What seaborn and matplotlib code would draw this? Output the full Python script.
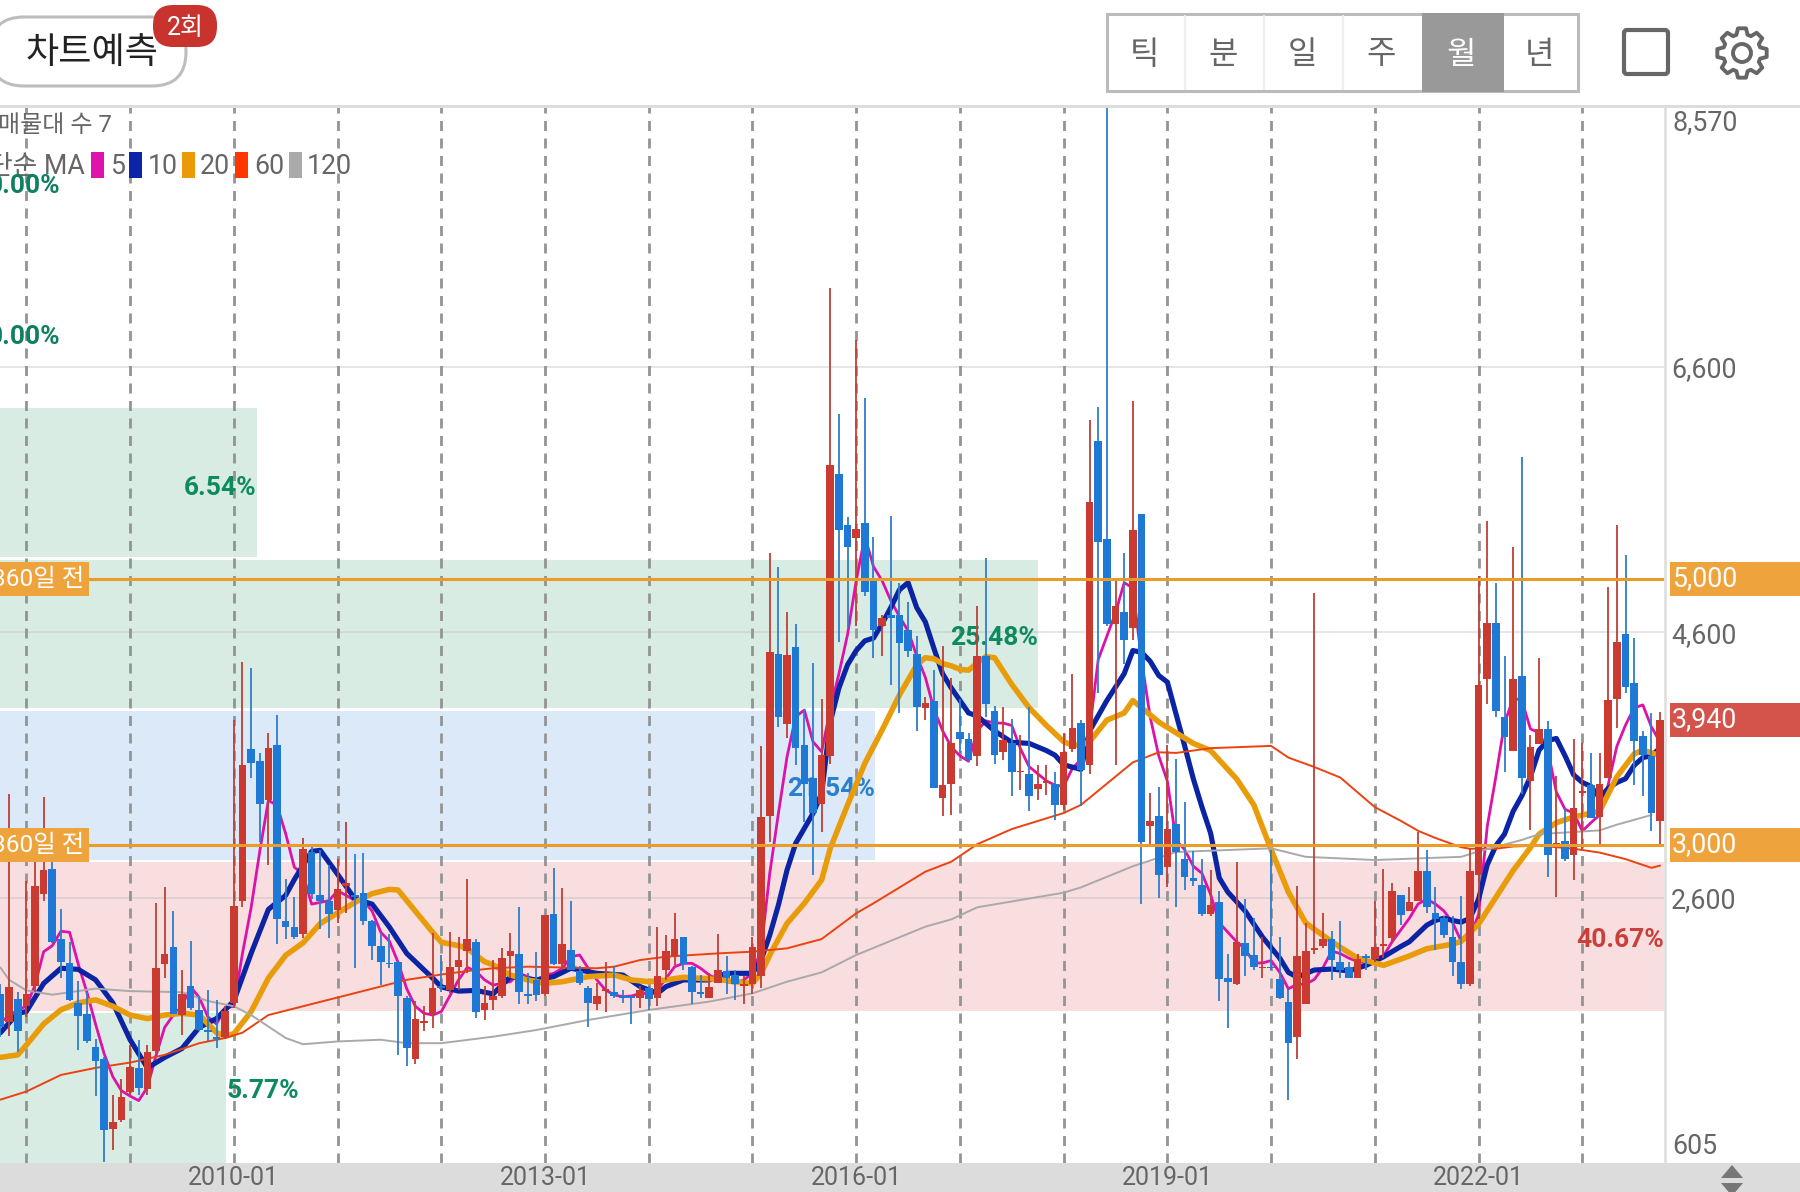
import numpy as np
import pandas as pd
import matplotlib
matplotlib.use('Agg')
import matplotlib.pyplot as plt
import seaborn as sns
from matplotlib.patches import FancyBboxPatch, Polygon, Rectangle, Circle

# monthly candles, 2007-10 .. 2023-10
dates = pd.date_range('2007-10-01', periods=193, freq='MS')

opens = [1880,1670,1840,1790,1940,2630,2820,2290,2110,1810,
         1730,1480,1390,860,930,1140,1320,1160,1450,2100,
         2230,1720,1940,1760,1610,1550,1550,1810,2580,3720,
         3630,3340,3750,2430,2380,2330,2950,2620,2580,2510,
         2690,2620,2640,2430,2240,2110,2120,1850,1390,1660,
         1730,1940,1910,2080,2200,2270,1760,1830,1860,2160,
         2180,1870,1980,1880,2480,2100,2210,2050,1920,1800,
         1900,1890,1860,1860,1850,1920,1850,2060,2160,2310,
         2080,1890,1850,1960,2050,2020,1940,1950,2010,3220,
         4440,3910,4490,3750,3500,3310,3670,5790,5410,5310,
         5420,4990,4650,4730,4730,4620,4440,4030,4080,3350,
         3460,3850,3800,3670,4420,4010,3700,3770,3545,3530,
         3420,3465,3460,3300,3720,3920,3600,6040,5300,4660,
         4750,4630,5490,3140,3220,2830,3160,2890,2750,2700,
         2480,2570,2000,1950,2260,2170,2070,2080,1990,1820,
         1550,1800,2210,2240,2290,2120,2080,2000,2160,2140,
         2240,2300,2620,2500,2580,2800,2490,2450,2310,2120,
         1950,2770,4250,4670,3960,3710,4270,3480,3760,3870,
         3000,3030,2920,3390,3450,3210,3500,4100,4590,4220,
         3820,3670,3180]
closes = [1630,1930,1600,1880,2690,2810,2270,2120,1830,1710,
          1520,1370,850,910,1100,1330,1170,1440,2070,2180,
          1730,1880,1770,1610,1590,1540,1750,2540,3600,3620,
          3310,3730,2440,2380,2310,2970,2630,2580,2480,2670,
          2710,2610,2430,2240,2120,2100,1860,1470,1690,1670,
          1920,1920,2080,2130,2290,1740,1810,1860,2150,2200,
          1890,1860,1870,2470,2100,2250,2060,1960,1810,1860,
          1910,1860,1850,1850,1910,1840,2010,2200,2290,2100,
          1890,1880,1930,2060,2000,1950,1950,2230,3210,4450,
          3960,4430,3730,3460,3240,3680,5860,5370,5240,5380,
          4900,4620,4710,4710,4520,4460,4040,4070,3430,3450,
          3770,3800,3640,4420,4060,3680,3790,3550,3555,3370,
          3460,3475,3300,3700,3880,3560,5580,5280,4660,4800,
          4540,5370,3020,3180,2770,3120,2950,2760,2730,2480,
          2550,1990,1970,2270,2160,2080,2080,2070,1850,1510,
          2160,2200,2220,2290,2130,2060,2000,2140,2150,2230,
          2250,2650,2470,2570,2800,2530,2440,2320,2120,1950,
          2800,4200,4670,4010,3810,4250,3500,3740,3870,2920,
          3010,2890,3280,3400,3200,3460,4090,4530,4190,3780,
          3680,3240,3940]
highs = [1950,3380,1890,2730,2925,3360,2870,2520,2270,1975,
         1890,1540,1400,1120,1240,1490,1530,1490,2560,2680,
         2505,2060,2275,1865,1905,1835,1785,3940,4380,4335,
         3695,3845,3975,2745,2605,3055,2990,2965,2845,2895,
         3175,2935,2940,2435,2335,2330,2125,1865,1825,1785,
         2340,2170,2345,2310,2745,2295,1935,2135,2220,2335,
         2535,2035,2195,2470,2825,2675,2575,2085,1935,1960,
         2120,2085,1910,1865,1935,1935,2380,2320,2490,2310,
         2085,2020,2035,2330,2160,2060,2010,2310,3745,5200,
         5095,4750,4660,4025,4370,4095,7190,6240,5465,6800,
         6365,5315,4730,5475,4975,4830,4570,4115,4320,4500,
         4260,4100,3845,4795,5160,4045,4040,3950,3825,4040,
         3600,3600,3550,3845,4285,3940,6200,6295,8570,4990,
         5195,6340,5490,3390,3435,3755,3650,3320,2955,2895,
         2810,2655,2180,2870,2590,2450,2305,2965,2305,1915,
         2690,2415,4895,2485,2350,2425,2120,2180,2180,2575,
         2820,2715,2625,2680,3095,2965,2680,2465,2465,2615,
         2980,5025,5435,4975,4420,5245,5920,3830,4405,3930,
         3515,3280,3800,3770,3690,3690,4945,5410,5180,4555,
         3860,3990,4000]
lows = [1550,1560,1440,1705,1890,2580,2260,2000,1825,1455,
        1505,1110,610,700,915,1120,1120,1120,1430,2000,
        1725,1570,1760,1600,1520,1470,1535,1770,2530,3500,
        3020,2850,2250,2295,2290,2300,2595,2365,2300,2410,
        2485,2070,2395,2130,1945,2075,1420,1335,1350,1600,
        1625,1890,1885,1910,2035,1695,1680,1755,1850,2000,
        1800,1800,1825,1860,2095,2060,2060,1945,1630,1755,
        1745,1850,1810,1655,1770,1755,1785,1985,2095,2060,
        1805,1850,1845,1960,1880,1835,1800,1880,1920,3020,
        3890,3805,3605,3175,2775,3100,3610,4530,4640,4650,
        4875,4410,4420,4200,3995,4415,3860,3940,3430,3220,
        3225,3695,3630,3590,3965,3610,3640,3370,3415,3255,
        3335,3375,3185,3265,3700,3295,3535,4140,4650,3600,
        4365,4545,2555,3010,2600,2680,2530,2660,2690,2465,
        2465,1825,1620,1945,2015,2060,1995,2055,1840,1080,
        1385,1800,2180,2220,1980,1995,1995,2000,2060,2120,
        2145,2270,2395,2500,2575,2490,2205,2300,2015,1915,
        1940,2445,4060,3960,3545,3710,3385,3115,3760,2760,
        2605,2875,2735,2965,3200,3010,3500,3880,4140,3450,
        3365,3105,3010]

# moving averages, months counted from 2010-01
ma5_x = [-27,-25,-24,-23,-22,-21,-20,-19,-18,-17,-16,-15,-14,-13,-12,-11,-10,-9,-8,-7,-6,-5,-4,-3,-2,-1,0,1,2,3,4,5,6,7,8,9,10,11,12,13,14,15,16,17,18,19,20,21,22,23,24,25,26,27,28,29,30,
         31,32,33,34,35,36,37,38,39,40,41,42,43,44,45,46,47,48,49,50,51,52,53,54,55,56,57,58,59,60,61,62,63,64,65,66,67,68,
         69,70,71,72,73,74,75,76,77,78,79,80,81,82,83,84,85,86,87,88,89,90,91,92,93,94,95,96,97,98,99,100,101,102,103,104,105,106,107,
         108,109,110,111,112,113,114,115,116,117,118,119,120,121,122,123,124,125,126,127,128,129,130,131,132,133,134,135,136,137,138,139,140,141,
         142,143,144,145,146,147,148,149,150,151,152,153,154,155,156,157,158,159,160,161,162,163,164,165]
ma5 = [1666,1758,1785,1944,2196,2241,2350,2342,2103,1891,1652,1427,1255,1149,1109,1075,1175,1414,1626,1719,1785,1931,1851,1705,1652,1772,1785,2183,2527,2951,3336,3296,3084,2832,2779,2554,2567,2580,2654,2620,2580,2580,2501,2342,2275,2116,1917,1785,1732,1719,1745,1864,1984,2077,2050,1984,1944,
       1958,1970,2033,2008,1983,2020,2033,2071,2158,2171,2071,1983,1908,1870,1857,1862,1882,1882,1908,1995,2083,2108,2108,2071,2020,1983,1970,1958,1983,2033,2209,2786,3237,3664,3965,4015,3777,3701,
       4020,4288,4584,4988,5324,5095,4988,4840,4719,4611,4423,4261,4020,3858,3737,3670,3630,3858,3934,3917,3917,3899,3724,3589,3536,3482,3449,3441,3576,3643,3858,4396,4571,4746,4974,4934,4396,3966,3670,
       3479,3035,2964,2839,2786,2626,2413,2342,2271,2218,2111,2111,2129,2040,1916,1951,1951,1987,2076,2200,2182,2147,2122,2111,2147,2164,2271,2360,2448,2555,2591,2555,2502,2413,
       2274,2303,2476,3138,3513,3916,4103,4089,3873,3844,3714,3397,3268,3239,3104,3167,3225,3455,3743,3902,4031,4054,3887,3772]
ma10_x = [-27,-25,-24,-22,-20,-18,-16,-14,-12,-10,-8,-6,-4,-2,0,2,4,6,7,8,9,10,12,14,16,18,20,23,24,26,28,30,
          32,35,37,39,42,45,47,49,50,52,55,57,59,60,61,62,63,64,65,66,67,68,
          69,70,71,72,73,74,75,76,77,78,79,80,81,82,83,84,85,86,88,90,92,94,95,96,98,99,101,103,104,105,106,107,
          108,110,111,112,113,114,115,117,119,121,122,123,125,127,129,131,133,135,136,138,139,140,141,
          142,143,144,145,146,147,148,149,150,151,152,153,154,155,156,157,158,159,160,161,162,163,164,165]
ma10 = [1586,1732,1745,1957,2071,2063,1984,1811,1533,1321,1400,1467,1626,1692,1825,2183,2514,2620,2739,2845,2951,2959,2779,2593,2554,2381,2183,1997,1931,1899,1904,1878,
        2008,1983,2008,2071,2033,2020,1933,1882,1933,1983,1983,2033,2033,2033,2133,2321,2547,2811,3012,3124,3237,3388,
        3925,4181,4356,4463,4536,4557,4665,4786,4920,4974,4786,4678,4477,4288,4181,4087,3993,3971,3858,3772,3764,3710,3675,3603,3568,3858,4087,4288,4463,4450,4383,4275,
        4225,3745,3497,3284,3088,2751,2644,2502,2306,2147,2040,2005,2058,2065,2051,2093,2157,2235,2271,2395,2431,2448,2431,
        2418,2447,2591,2850,2994,3081,3253,3369,3513,3714,3786,3801,3671,3527,3470,3441,3354,3426,3470,3498,3599,3657,3671,3729]
ma20_x = [-27,-25,-24,-22,-20,-18,-16,-14,-12,-10,-8,-6,-4,-2,-1,0,2,4,6,8,10,12,14,16,18,19,21,23,24,26,27,29,30,
          32,34,36,38,41,44,46,48,50,52,56,58,60,61,62,64,66,68,69,71,73,75,77,79,
          80,81,82,83,84,85,86,87,88,90,92,94,96,97,98,99,101,103,104,105,107,109,111,113,116,118,120,122,124,127,130,133,136,138,141,
          142,144,146,148,150,151,153,155,158,160,162,163,165]
ma20 = [1400,1419,1493,1652,1758,1811,1833,1785,1719,1692,1719,1732,1719,1586,1560,1578,1745,1997,2169,2262,2408,2487,2567,2633,2665,2660,2501,2342,2267,2241,2221,2121,2096,
        2020,1983,1958,1970,2008,2020,1983,1970,1983,2003,1988,1970,1958,2033,2171,2409,2560,2736,2974,3300,3614,3865,4128,4354,
        4409,4401,4364,4348,4321,4315,4369,4417,4409,4208,4033,3899,3777,3751,3751,3777,3939,3993,4087,4033,3925,3844,3764,3710,3497,3301,2964,2644,2413,2271,2147,2093,2164,2218,2253,
        2274,2404,2605,2807,2980,3081,3167,3210,3253,3513,3685,3714,3671]
ma60_x = [-27,-24,-20,-16,-12,-8,-4,-1,1,4,8,12,16,20,24,27,30,34,42,44,47,50,53,56,60,64,68,72,74,80,83,86,90,96,98,104,107,109,113,120,122,125,128,132,135,137,139,142,143,146,148,151,155,158,161,164,165]
ma60 = [1082,1143,1268,1321,1361,1419,1507,1546,1586,1719,1785,1851,1917,1984,2024,2050,2071,2083,2071,2083,2133,2158,2171,2183,2196,2221,2291,2485,2560,2798,2873,3005,3119,3240,3301,3621,3697,3692,3728,3745,3657,3586,3507,3284,3181,3106,3052,2982,2971,2971,2988,2994,2971,2942,2893,2827,2844]
ma120_x = [-27,-26,-24,-21,-16,-12,-6,-3,0,2,6,8,12,17,20,24,30,35,41,48,55,60,64,68,72,80,83,86,96,98,104,109,120,124,132,142,144,149,151,158,160,164]
ma120 = [2077,1984,1904,1872,1918,1899,1891,1825,1785,1719,1546,1499,1520,1533,1507,1507,1556,1606,1682,1757,1820,1882,1970,2040,2171,2384,2439,2530,2640,2680,2839,2946,2974,2910,2886,2910,2951,3037,3081,3109,3152,3225]

# shaded price zones
zone_lows = [5167, 4030, 2886, 1749, 605]
zone_highs = [6289, 5144, 4008, 2871, 1734]
zone_ends = [2.66, 93.06, 74.2, 165.45, -0.92]
zone_colors = ['#D9ECE4', '#D9ECE4', '#DBE9F8', '#F8DEDF', '#D9ECE4']
zone_labels = ['6.54%', '25.48%', '21.54%', '40.67%', '5.77%']
zone_label_y = [5690, 4555, 3420, 2284, 1147]
zone_label_colors = ['#0E8A60', '#0E8A60', '#2A7FD0', '#C9403A', '#0E8A60']

y_ticks = [2600, 4600, 6600]
x_ticks = [0, 36, 72, 108, 144]
x_labels = ['2010-01', '2013-01', '2016-01', '2019-01', '2022-01']
year_lines = [-24, -12, 0, 12, 24, 36, 48, 60, 72, 84, 96, 108, 120, 132, 144, 156]
price_lines = [5000, 3000]
ma_names = ['5', '10', '20', '60', '120']
ma_colors = ['#DC12AA', '#0B24A4', '#E99C0A', '#EC4210', '#A9A9A9']

sns.set_theme(style='white')
plt.rcParams['font.family'] = ['Roboto', 'Noto Sans CJK KR', 'DejaVu Sans']

W, H = 1800, 1192
fig = plt.figure(figsize=(18, 11.92), dpi=100, facecolor='white')

# bottom strip sits under the chart's tick labels
bg = fig.add_axes([0, 0, 1, 1], zorder=0)
bg.set_xlim(0, W)
bg.set_ylim(H, 0)
bg.axis('off')
bg.add_patch(Rectangle((0, 1163), W, 29, color='#DCDCDC', lw=0))

ax = fig.add_axes([0, (H - 1163) / H, 1664 / W, 1058 / H], zorder=1)
ax.set_facecolor('white')
month_idx = np.arange(len(dates)) - 27
o, h, l, c = map(np.array, (opens, highs, lows, closes))
up = c >= o

for lo, hi, end, col in zip(zone_lows, zone_highs, zone_ends, zone_colors):
    ax.bar(-40, hi - lo, bottom=lo, width=end + 40, align='edge', color=col, lw=0, zorder=1)
for g in y_ticks:
    ax.axhline(g, color='#B0B0B0', alpha=0.4, lw=1.1, zorder=1.5)
for yl in year_lines:
    ax.axvline(yl, color='#949494', lw=2.0, dashes=(3.6, 2.7), zorder=2)

for end, ty, txt, col in zip(zone_ends, zone_label_y, zone_labels, zone_label_colors):
    if txt == '5.77%':
        ax.text(end + 0.1, ty, txt, color=col, fontsize=19, fontweight='bold', ha='left', va='center', zorder=2.5)
    else:
        ax.text(end, ty, txt, color=col, fontsize=19, fontweight='bold', ha='right', va='center', zorder=2.5)

ma_x = [ma5_x, ma10_x, ma20_x, ma60_x, ma120_x]
ma_y = [ma5, ma10, ma20, ma60, ma120]
ma_lw = [2.0, 3.7, 4.0, 1.4, 1.4]
for xs, ys, col, lw in zip(ma_x, ma_y, ma_colors, ma_lw):
    sns.lineplot(x=xs, y=ys, color=col, linewidth=lw, ax=ax, zorder=3, legend=False, estimator=None)

wick_cols = np.where(up, '#BC4037', '#2F7DCC')
body_cols = np.where(up, '#CB3A30', '#1E78D6')
ax.vlines(month_idx, l, h, colors=wick_cols, lw=1.3, zorder=4)
ax.bar(month_idx, np.maximum(np.abs(c - o), 14), bottom=np.minimum(o, c), width=0.88, color=body_cols, lw=0, zorder=4.1)

for p in price_lines:
    ax.axhline(p, color='#EB9C28', lw=2.2, zorder=5)

ax.set_xlim(-27.05, 165.45)
ax.set_ylim(605, 8570)
for s in ax.spines.values():
    s.set_visible(False)
ax.set_xticks(x_ticks)
ax.set_xticklabels(x_labels, fontsize=18, color='#666666')
ax.tick_params(axis='x', length=0, pad=2)
ax.yaxis.tick_right()
ax.set_yticks(y_ticks)
ax.set_yticklabels([f'{t:,}' for t in y_ticks], fontsize=19.3, color='#666666')
ax.tick_params(axis='y', length=0, pad=5)
ax.set_xlabel('')
ax.set_ylabel('')

# app chrome and flags, in pixel coordinates
ui = fig.add_axes([0, 0, 1, 1], zorder=2)
ui.set_xlim(0, W)
ui.set_ylim(H, 0)
ui.axis('off')
ui.patch.set_alpha(0)

ui.plot([0, W], [106, 106], color='#DDDDDD', lw=2.2)
ui.plot([1665, 1665], [106, 1163], color='#DDDDDD', lw=1.8)

# the axis clamps its first and last labels inside the pane
ui.text(1672, 123, '8,570', fontsize=19.3, color='#666666', ha='left', va='center')
ui.text(1672, 1146, '605', fontsize=19.3, color='#666666', ha='left', va='center')

ui.add_patch(FancyBboxPatch((-10, 17), 196, 69, boxstyle='round,pad=0,rounding_size=34', fc='white', ec='#BDBDBD', lw=2.2))
ui.text(92, 53, '차트예측', fontsize=26, color='#222222', ha='center', va='center')
ui.add_patch(FancyBboxPatch((153, 5), 64, 42, boxstyle='round,pad=0,rounding_size=20', fc='#C9332E', ec='none'))
ui.text(185, 28, '2회', fontsize=18, color='white', ha='center', va='center')

# period selector
ui.add_patch(Rectangle((1107, 14), 471, 77, fc='white', ec='#BBBBBB', lw=2.2))
ui.add_patch(Rectangle((1422, 13), 82, 79, fc='#999999', ec='none'))
for dx in [1185, 1264, 1343]:
    ui.plot([dx, dx], [16, 89], color='#EEEEEE', lw=1.6)
periods = ['틱', '분', '일', '주', '월', '년']
period_x = [1144, 1223, 1302, 1381, 1461, 1539]
for px, tx in zip(period_x, periods):
    ui.text(px, 55, tx, fontsize=23, color='white' if tx == '월' else '#666666', ha='center', va='center')

ui.add_patch(FancyBboxPatch((1624, 30), 44, 44, boxstyle='round,pad=0,rounding_size=3', fc='white', ec='#666666', lw=3))

# gear icon
tooth_ang = np.linspace(0, 2 * np.pi, 8, endpoint=False) + np.pi / 2
gear_pts = []
for a in tooth_ang:
    for da, r in [(-0.30, 19), (-0.16, 25), (0.16, 25), (0.30, 19)]:
        gear_pts.append((1742 + r * np.cos(a + da), 53 + r * np.sin(a + da)))
ui.add_patch(Polygon(gear_pts, closed=True, fc='white', ec='#666666', lw=2.8, joinstyle='round'))
ui.add_patch(Circle((1742, 53), 9, fc='white', ec='#666666', lw=2.8))

# legend rows
ui.text(-2, 125, '매물대 수 7', fontsize=17.3, color='#666666', ha='left', va='center')
ui.text(85, 167, '단순 MA', fontsize=19.3, color='#666666', ha='right', va='center')
swatch_x = [91, 129, 182, 235, 289]
label_x = [110, 148, 200, 254, 307]
swatch_cols = ['#DF12AE', '#0B24A8', '#EA9A07', '#FF3600', '#AAAAAA']
for sx, lx, name, col in zip(swatch_x, label_x, ma_names, swatch_cols):
    ui.add_patch(Rectangle((sx, 152), 13, 26, fc=col, ec='none'))
    ui.text(lx, 167, name, fontsize=19.3, color='#666666', ha='left', va='center')
for ty in [186, 337]:
    ui.text(60, ty, '0.00%', fontsize=19, fontweight='bold', color='#0E8060', ha='right', va='center')

# price flags
flag_y = [579, 845, 720]
flag_txt = ['5,000', '3,000', '3,940']
flag_col = ['#EFA33C', '#EFA33C', '#D4534B']
for fy, tx, col in zip(flag_y, flag_txt, flag_col):
    ui.add_patch(Rectangle((1670, fy - 17), 130, 34, fc=col, ec='none'))
    ui.text(1672, fy, tx, fontsize=19.3, color='white', ha='left', va='center')
for fy in flag_y[:2]:
    ui.add_patch(Rectangle((-2, fy - 17), 91, 34, fc='#EFA33C', ec='none'))
    ui.text(84, fy + 1, '360일 전', fontsize=17.6, color='white', ha='right', va='center')

# pane resize arrows
ui.add_patch(Polygon([(1721, 1178), (1743, 1178), (1732, 1165)], closed=True, fc='#777777', ec='none'))
ui.add_patch(Polygon([(1721, 1183), (1743, 1183), (1732, 1196)], closed=True, fc='#777777', ec='none'))

fig.savefig('out.png', dpi=100)
